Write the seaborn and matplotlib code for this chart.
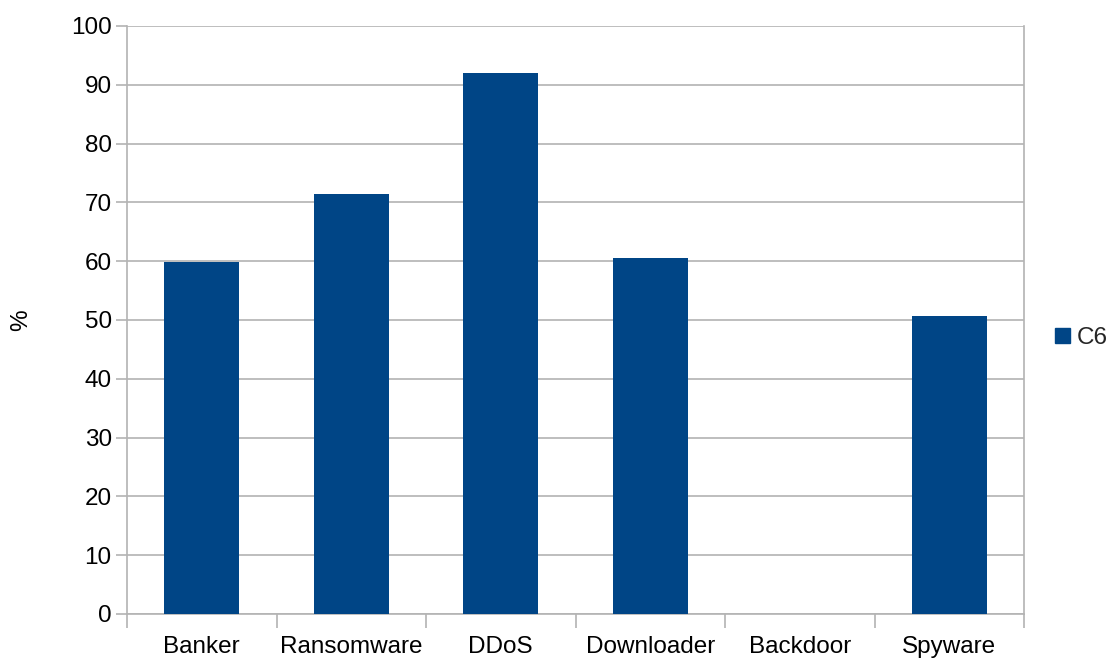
import matplotlib
matplotlib.use("Agg")
import matplotlib.pyplot as plt
import seaborn as sns
import pandas as pd
from matplotlib.patches import Patch

categories = ["Banker", "Ransomware", "DDoS", "Downloader", "Backdoor", "Spyware"]
values_c6 = [59.8, 71.5, 92.0, 60.6, 0.0, 50.6]
series_name = "C6"
yticks = list(range(0, 101, 10))

df = pd.DataFrame({"category": categories, "value": values_c6})

sns.set_theme(style="white")
plt.rcParams['font.family'] = ['Liberation Sans', 'DejaVu Sans']

fig = plt.figure(figsize=(11.18, 6.59), dpi=100)
ax = fig.add_axes([127/1118, 1 - 614/659, (1024-127)/1118, (614-26)/659])

color = "#004586"
fs = 17.5
sns.barplot(data=df, x="category", y="value", color=color, width=0.5,
            saturation=1, linewidth=0, ax=ax, zorder=3)

ax.set_xlim(-0.5, len(categories) - 0.5)
ax.set_ylim(0, 100)
ax.set_yticks(yticks)
ax.set_yticklabels([str(t) for t in yticks], fontsize=fs, color="#000000")
ax.yaxis.grid(True, color="#b3b3b3", linewidth=1.2, zorder=0)
ax.tick_params(axis="y", length=8, width=1.2, color="#b3b3b3", pad=3, left=True)

# category boundary ticks
ax.set_xticks([i - 0.5 for i in range(len(categories) + 1)], minor=False)
ax.set_xticklabels([])
ax.set_xticks(range(len(categories)), minor=True)
ax.set_xticklabels(categories, minor=True, fontsize=fs, color="#000000")
ax.tick_params(axis="x", which="major", length=10, width=1.2, color="#b3b3b3", bottom=True)
ax.tick_params(axis="x", which="minor", length=0, pad=16)

ax.spines["top"].set_visible(False)
for s in ["left", "bottom", "right"]:
    ax.spines[s].set_color("#b3b3b3")
    ax.spines[s].set_linewidth(1.2)

ax.set_xlabel("")
ax.set_ylabel("%", fontsize=fs, color="#000000")
ax.yaxis.set_label_coords(-0.106, 0.5)

handles = [Patch(facecolor=color, edgecolor=color, label=series_name)]
fig.legend(handles=handles, loc="center left", bbox_to_anchor=(1055/1118, 1 - 338/659),
           frameon=False, fontsize=fs, handlelength=0.6, handleheight=0.6,
           handletextpad=0.3, borderaxespad=0, borderpad=0)

fig.savefig("out.png", dpi=100)
